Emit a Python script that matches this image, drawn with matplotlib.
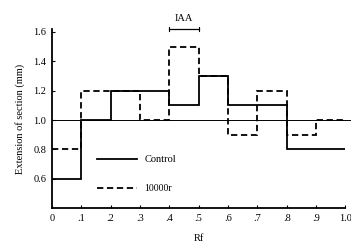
# Histogram-style step chart: extension of section vs Rf
import matplotlib.pyplot as plt

plt.rcParams['font.family'] = ['Liberation Serif', 'DejaVu Serif']

# ---------------------------
# Data
# ---------------------------
rf_edges = [0.0, 0.1, 0.2, 0.3, 0.4, 0.5, 0.6, 0.7, 0.8, 0.9, 1.0]
control = [0.6, 1.0, 1.2, 1.2, 1.1, 1.3, 1.1, 1.1, 0.8, 0.8]
treated = [0.8, 1.2, 1.2, 1.0, 1.5, 1.3, 0.9, 1.2, 0.9, 1.0]
xtick_vals = [0, .1, .2, .3, .4, .5, .6, .7, .8, .9, 1.0]
xtick_labels = ["0", ".1", ".2", ".3", ".4", ".5", ".6", ".7", ".8", ".9", "1.0"]
ytick_vals = [0.6, 0.8, 1.0, 1.2, 1.4, 1.6]
ytick_labels = ["0.6", "0.8", "1.0", "1.2", "1.4", "1.6"]
iaa_range = (0.4, 0.5)

fig = plt.figure(figsize=(3.51, 2.46), dpi=100)
ax = fig.add_axes([0.148, 0.154, 0.836, 0.728])

# baseline at 1.0
ax.plot([0, 1.025], [1.0, 1.0], color="black", lw=0.7, clip_on=False)

ax.stairs(control, rf_edges, color="black", lw=1.3, baseline=None)
ax.stairs(treated, rf_edges, color="black", lw=1.3, ls=(0, (3.5, 2)), baseline=None)

# IAA bracket
ax.plot(iaa_range, [1.62, 1.62], color="black", lw=0.9, clip_on=False)
for xv in iaa_range:
    ax.plot([xv, xv], [1.605, 1.635], color="black", lw=0.8, clip_on=False)
ax.text(sum(iaa_range) / 2, 1.66, "IAA", ha="center", va="bottom", fontsize=7.5, clip_on=False)

# legend drawn by hand
ax.plot([0.153, 0.29], [0.734, 0.734], color="black", lw=1.3)
ax.text(0.315, 0.734, "Control", va="center", fontsize=7.5)
ax.plot([0.153, 0.29], [0.536, 0.536], color="black", lw=1.3, ls=(0, (3.5, 2)))
ax.text(0.315, 0.536, "10000r", va="center", fontsize=7)

ax.set_xlim(0, 1.0)
ax.set_ylim(0.4, 1.62)
ax.set_xticks(xtick_vals, xtick_labels)
ax.set_yticks(ytick_vals, ytick_labels)
ax.tick_params(direction="in", length=2.5, width=0.8, labelsize=7.5, pad=4)
ax.spines["top"].set_visible(False)
ax.spines["right"].set_visible(False)
ax.spines["left"].set_linewidth(1.3)
ax.spines["bottom"].set_linewidth(1.3)

ax.set_ylabel("Extension of section (mm)", fontsize=7.5, labelpad=6)
ax.set_xlabel("Rf", fontsize=7.5, labelpad=8)

fig.savefig("out.png", dpi=100)
